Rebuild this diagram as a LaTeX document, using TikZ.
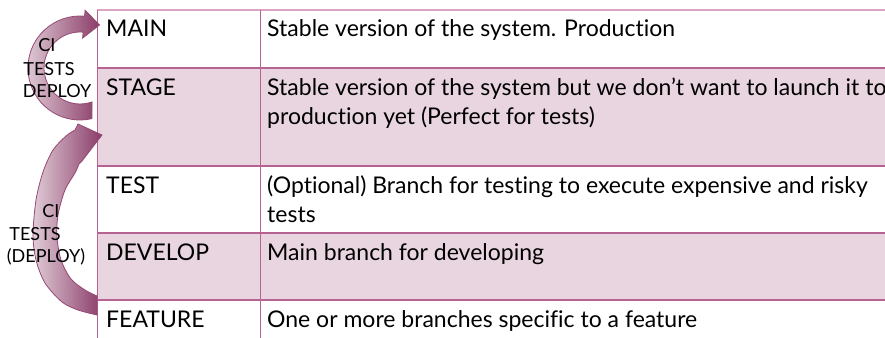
\documentclass[tikz,border=0pt]{standalone}
\usepackage{fontspec}
\setmainfont{Lato}[Ligatures=NoCommon]
\definecolor{rowpink}{RGB}{233,213,224}
\definecolor{gridline}{RGB}{182,98,146}
\definecolor{topline}{RGB}{218,165,196}
\definecolor{arrowlight}{RGB}{224,204,215}
\definecolor{arrowdark}{RGB}{138,60,104}
\definecolor{arrowedge}{RGB}{150,72,116}
\tikzset{
  cell/.style={anchor=base west, inner sep=0pt, align=left,
    font=\fontsize{23}{29}\selectfont},
  lbl/.style={anchor=base, inner sep=0pt, font=\fontsize{18}{22}\selectfont},
  rowrule/.style={gridline, line width=1.5pt},
  colrule/.style={gridline, line width=1pt},
  flow/.style={left color=arrowlight, right color=arrowdark, draw=arrowedge, line width=0.8pt},
}
\begin{document}
\begin{tikzpicture}[x=1pt,y=-1pt]
\useasboundingbox (0,0) rectangle (885,337);
\clip (0,0) rectangle (885,337);

% shaded rows
\fill[rowpink] (97,68) rectangle (900,166);
\fill[rowpink] (97,233) rectangle (900,300);

% rules
\draw[topline, line width=1.5pt] (97,10) -- (900,10);
\foreach \y in {68,166,233,300} \draw[rowrule] (97,\y) -- (900,\y);
\draw[colrule] (97,10) -- (97,345);
\draw[colrule] (260,10) -- (260,345);

% branch names
\node[cell] (main)    at (106,37)  {MAIN};
\node[cell] (stage)   at (106,95)  {STAGE};
\node[cell] (test)    at (106,193) {TEST};
\node[cell] (develop) at (106,260) {DEVELOP};
\node[cell] (feature) at (106,327) {FEATURE};

% descriptions (two-line cells are anchored on their last baseline)
\node[cell] (mainD)    at (267,37)  {Stable version of the system. Production};
\node[cell] (stageD)   at (267,124) {Stable version of the system but we don’t want to launch it to\\production yet (Perfect for tests)};
\node[cell] (testD)    at (267,222) {(Optional) Branch for testing to execute expensive and risky\\tests};
\node[cell] (developD) at (267,260) {Main branch for developing};
\node[cell] (featureD) at (267,327) {One or more branches specific to a feature};

% promotion arrow: stage -> main
\shadedraw[flow] (91.96,118.6) arc[start angle=76.7, end angle=275, radius=52]
  -- (85.1,10.2) -- (99.5,25) -- (82.6,38.1) -- (83.14,32.14)
  arc[start angle=275, end angle=70.5, radius=36] -- cycle;

% promotion arrow: feature -> stage
\shadedraw[flow] plot[smooth] coordinates {(97,315) (78,310) (62,302) (45,283) (36,260) (33,235) (36,200) (43,172) (53,150) (66,136) (75,130)}
  -- (78,124) -- (102,135) -- (82,161)
  -- plot[smooth] coordinates {(79,164) (75,173) (65,190) (58,215) (57,237) (61,260) (71,279) (85,290) (97,296)} -- cycle;

% arrow labels
\node[lbl] (ciTop)     at (47,52)  {CI};
\node[lbl] (testsTop)  at (49,75)  {TESTS};
\node[lbl] (deployTop) at (57,97)  {DEPLOY};
\node[lbl] (ciBot)     at (51,217) {CI};
\node[lbl] (testsBot)  at (35,240) {TESTS};
\node[lbl] (deployBot) at (46,262) {(DEPLOY)};
\end{tikzpicture}
\end{document}
